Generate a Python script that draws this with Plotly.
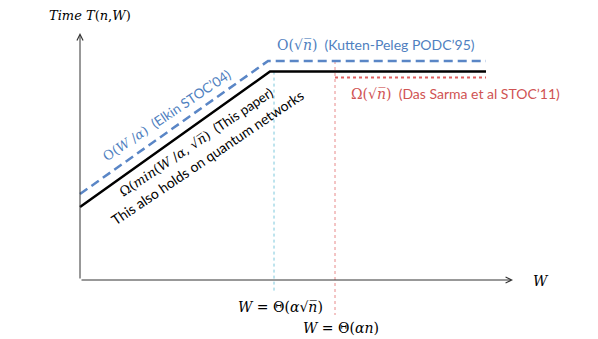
import plotly.graph_objects as go

# schematic data (arbitrary units)
lb_W = [0, 4.75, 10.15]          # this paper lower bound
lb_T = [1.825, 5.21, 5.21]
elkin_W = [0, 4.7, 10.15]        # O(W/alpha) / O(sqrt n)
elkin_T = [2.15, 5.475, 5.475]
ds_W = [6.375, 10.15]            # Das Sarma lower bound
ds_T = [5.06, 5.06]
vsqrt_W = [4.85, 4.85]
vsqrt_T = [5.21, -0.3]
vn_W = [6.375, 6.375]
vn_T = [5.475, -0.875]

BLUE = "#5A86C6"
BLUE_T = "#4F7FC0"
RED = "#D05353"
SANS = "Lato"
SERIF = "DejaVu Serif"

fig = go.Figure()
fig.add_trace(go.Scatter(x=vsqrt_W, y=vsqrt_T, mode="lines",
                         line=dict(color="#7CC8DC", width=1, dash="dot")))
fig.add_trace(go.Scatter(x=vn_W, y=vn_T, mode="lines",
                         line=dict(color="#E88A8A", width=1, dash="dot")))
fig.add_trace(go.Scatter(x=ds_W, y=ds_T, mode="lines",
                         line=dict(color="#E06060", width=2, dash="dot")))
fig.add_trace(go.Scatter(x=lb_W, y=lb_T, mode="lines",
                         line=dict(color="black", width=2.5)))
fig.add_trace(go.Scatter(x=elkin_W, y=elkin_T, mode="lines",
                         line=dict(color=BLUE, width=2.5, dash="9px,5px")))

def m(s, size=14):
    return "<span style='font-family:%s;font-size:%dpx'>%s</span>" % (SERIF, size, s)

SQN = "√<i>n̅</i>"

anns = []
# axes arrows
anns.append(dict(x=0, y=6.175, ax=0, ay=0, axref="x", ayref="y", xref="x", yref="y",
                 text="", showarrow=True, arrowhead=5, arrowsize=1.2, arrowwidth=1,
                 arrowcolor="#333333"))
anns.append(dict(x=10.825, y=0, ax=0, ay=0, axref="x", ayref="y", xref="x", yref="y",
                 text="", showarrow=True, arrowhead=5, arrowsize=1.2, arrowwidth=1,
                 arrowcolor="#333333"))
anns.append(dict(x=0.25, y=6.625, text="<i>Time T</i>(<i>n</i>,<i>W</i>)", showarrow=False,
                 font=dict(family=SERIF, size=13, color="black"),
                 xanchor="center", yanchor="middle"))
anns.append(dict(x=11.525, y=-0.025, text="<i>W</i>", showarrow=False,
                 font=dict(family=SERIF, size=14, color="black")))
anns.append(dict(x=5.0, y=-0.675, text="<i>W</i> = Θ(<i>α</i>" + SQN + ")", showarrow=False,
                 font=dict(family=SERIF, size=14, color="black")))
anns.append(dict(x=6.525, y=-1.2, text="<i>W</i> = Θ(<i>αn</i>)", showarrow=False,
                 font=dict(family=SERIF, size=14, color="black")))
anns.append(dict(x=7.4, y=5.9, text=m("O(" + SQN + ")") + "  (Kutten-Peleg PODC’95)",
                 showarrow=False, font=dict(family=SANS, size=14, color=BLUE_T)))
anns.append(dict(x=9.375, y=4.675, text=m("Ω(" + SQN + ")") + "  (Das Sarma et al STOC’11)",
                 showarrow=False, font=dict(family=SANS, size=14, color=RED)))
anns.append(dict(x=2.17, y=4.13, text=m("O(<i>W</i> /<i>α</i>)", 13) + "  (Elkin STOC’04)",
                 showarrow=False, textangle=-34, font=dict(family=SANS, size=13.5, color=BLUE_T)))
anns.append(dict(x=2.9, y=3.45, text=m("Ω(<i>min</i>(<i>W</i> /<i>α</i>, " + SQN + ")", 13) + "  (This paper)",
                 showarrow=False, textangle=-34, font=dict(family=SANS, size=13.5, color="black")))
anns.append(dict(x=3.175, y=3.075, text="This also holds on quantum networks",
                 showarrow=False, textangle=-34, font=dict(family=SANS, size=14, color="black")))

# page body has an 8px margin: shrink the figure and shift ranges accordingly
fig.update_layout(
    width=590, height=331,
    margin=dict(l=0, r=0, t=0, b=0),
    paper_bgcolor="white", plot_bgcolor="white",
    showlegend=False,
    xaxis=dict(range=[-1.8, 12.95], visible=False, fixedrange=True),
    yaxis=dict(range=[-1.475, 6.8], visible=False, fixedrange=True),
    annotations=anns,
)
fig.write_html("out.html")
